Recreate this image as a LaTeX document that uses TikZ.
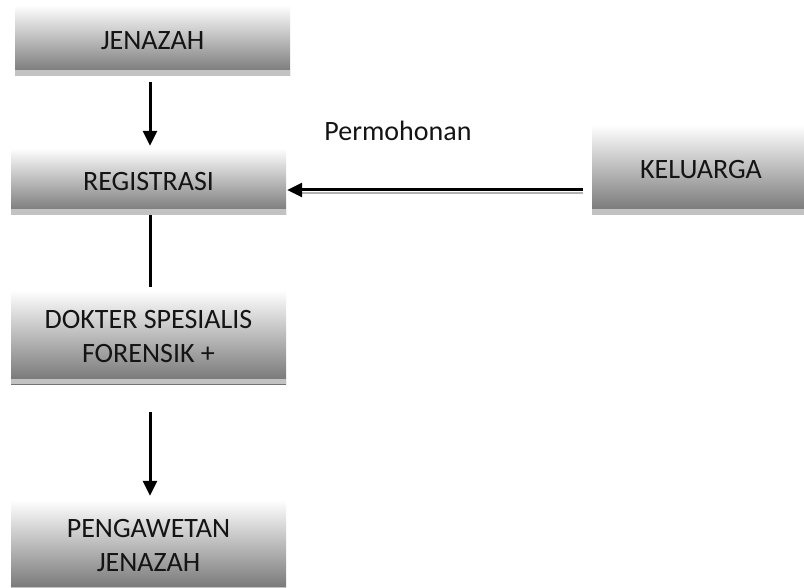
\documentclass[tikz,border=0pt]{standalone}
\usepackage{fontspec}
\setmainfont{Carlito}
\usetikzlibrary{arrows.meta,calc}
\begin{document}
\begin{tikzpicture}[x=1pt,y=-1pt,
  flowbox/.style={rectangle, inner sep=0pt, minimum width=275pt,
    top color=white, bottom color=black!55, align=center,
    text=black!92, font=\fontsize{28}{34}\selectfont,
    path picture={\fill[black!24] (path picture bounding box.south west) rectangle ([yshift=5.5pt]path picture bounding box.south east);}},
  arr/.style={line width=3pt, -{Triangle[length=15pt,width=14pt]}},
  plainline/.style={line width=3pt}]
\useasboundingbox (0,0) rectangle (804,588);
\clip (0,0) rectangle (804,588);
\fill[white] (0,0) rectangle (804,588);
\node[flowbox, minimum height=71pt] (jen) at (152.5,40.5) {JENAZAH};
\node[flowbox, minimum height=67pt] (reg) at (148.5,181.5) {REGISTRASI};
\node[flowbox, minimum height=94pt] (dok) at (148.5,337) {DOKTER SPESIALIS\\FORENSIK +};
\node[flowbox, minimum height=92pt] (peng) at (148.5,546) {PENGAWETAN\\JENAZAH};
\node[flowbox, minimum width=218pt, minimum height=90pt] (kel) at (701,170) {KELUARGA};
\node[font=\fontsize{28}{34}\selectfont, text=black!92, inner sep=0pt] (perm) at (398,131) {Permohonan};
\draw[arr] ($(jen.south -| reg.north)+(1.5pt,-6pt)$) -- ($(reg.north)+(1.5pt,2pt)$);
\draw[plainline] ($(reg.south)+(1.5pt,0pt)$) -- ($(dok.north)+(1.5pt,3pt)$);
\draw[arr] ($(dok.south)+(1.5pt,-28pt)$) -- ($(peng.north)+(1.5pt,4pt)$);
\draw[line width=2pt, black!30] ($(reg.east -| kel.west)+(-9pt,-12pt)$) -- ($(reg.east)+(10pt,-12pt)$);
\draw[arr] ($(reg.east -| kel.west)+(-9pt,-8.5pt)$) -- ($(reg.east)+(1pt,-8.5pt)$);
\end{tikzpicture}
\end{document}
